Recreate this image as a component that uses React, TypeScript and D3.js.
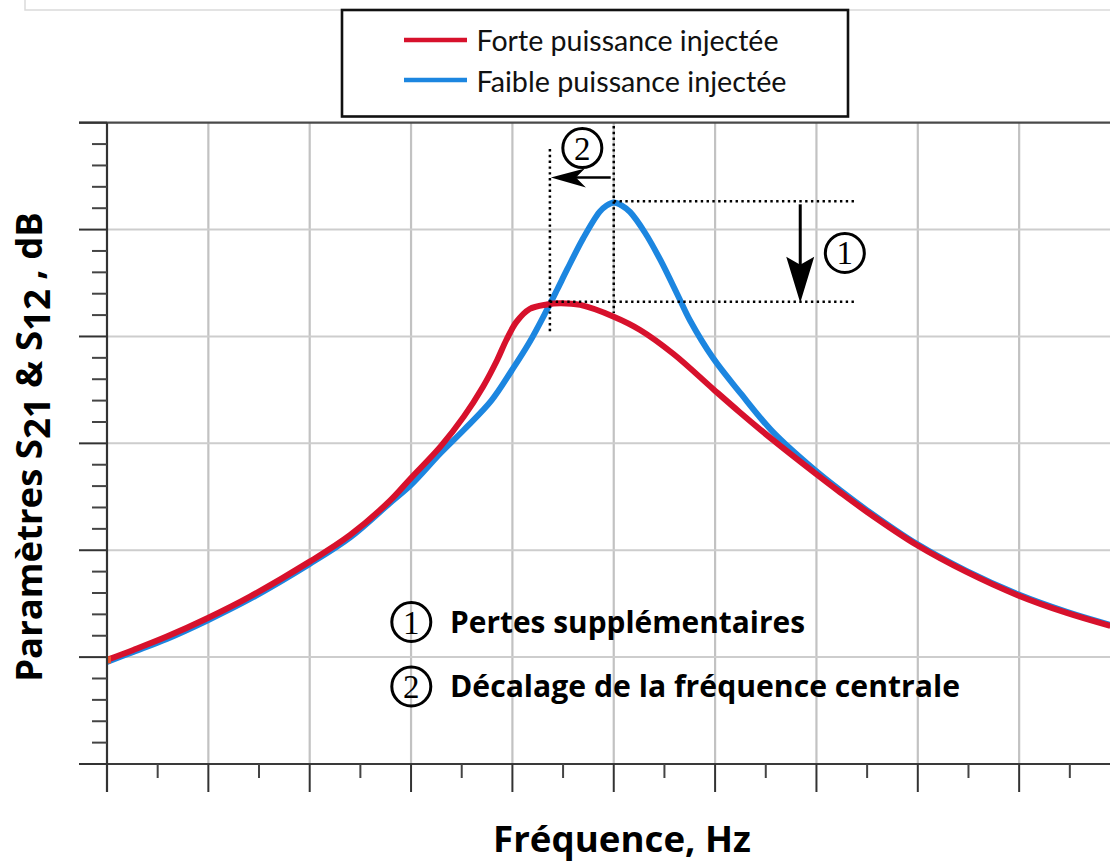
import React from 'react';
import * as d3 from 'd3';

// ---- Data (frequency in grid divisions, S-parameters in dB) ----
const freqRed = [0.0, 0.26, 0.59, 0.99, 1.41, 2.0, 2.4, 2.79, 3.0, 3.29, 3.52, 3.71, 3.85, 3.94, 4.04, 4.17, 4.34, 4.47, 4.67, 5.0, 5.26, 5.59, 5.98, 6.24, 6.57, 6.97, 7.23, 7.5, 7.99, 8.48, 8.99, 9.47, 9.9];
const dbRed = [-50.26, -49.33, -48.08, -46.36, -44.34, -41.07, -38.57, -35.39, -33.24, -30.31, -27.5, -24.7, -22.2, -20.33, -18.64, -17.43, -17.01, -16.89, -17.05, -18.15, -19.39, -21.64, -24.91, -27.06, -29.68, -32.67, -34.55, -36.42, -39.51, -42.03, -44.23, -45.87, -47.08];

const freqBlue = [0.0, 0.26, 0.59, 0.99, 1.41, 2.0, 2.4, 2.79, 3.0, 3.29, 3.52, 3.79, 3.99, 4.17, 4.34, 4.44, 4.54, 4.7, 4.86, 4.93, 5.0, 5.08, 5.16, 5.31, 5.46, 5.64, 5.75, 5.98, 6.25, 6.57, 6.97, 7.23, 7.5, 7.99, 8.48, 8.99, 9.47, 9.9];
const dbBlue = [-50.45, -49.51, -48.3, -46.57, -44.56, -41.28, -38.8, -35.6, -33.89, -30.93, -28.75, -26.03, -23.23, -20.52, -17.52, -15.65, -13.73, -10.79, -8.35, -7.75, -7.47, -7.75, -8.35, -10.32, -12.84, -16.31, -18.46, -22.02, -25.3, -28.93, -32.39, -34.36, -36.27, -39.41, -41.94, -44.13, -45.77, -46.99];

const seriesNames = ['Forte puissance injectée', 'Faible puissance injectée'];
const seriesColors = ['#D7112C', '#1C86E0'];

const xMajorTicks = d3.range(0, 11, 1);
const xMinorTicks = d3.range(0.5, 10, 1);
const yMajorTicks = d3.range(-60, 1, 10);
const yMinorTicks = d3.range(-60, 0, 2).filter((v) => v % 10 !== 0);

// annotation anchors (data units)
const redPeak = { f: 4.37, db: -16.85 };
const bluePeak = { f: 5.0, db: -7.45 };
const annoRightF = 7.4;
const arrow1F = 6.84;
const arrow2Db = -5.13;
const circle1 = { f: 7.28, db: -12.19, label: '1' };
const circle2 = { f: 4.69, db: -2.37, label: '2' };
const notes = ['Pertes supplémentaires', 'Décalage de la fréquence centrale'];

const W = 1110;
const H = 861;

export default function App() {
  const x = d3.scaleLinear().domain([0, 10]).range([107, 1120.5]);
  const y = d3.scaleLinear().domain([-60, 0]).range([764, 122.7]);

  const redData = freqRed.map((f, i) => [f, dbRed[i]] as [number, number]);
  const blueData = freqBlue.map((f, i) => [f, dbBlue[i]] as [number, number]);
  const line = d3
    .line<[number, number]>()
    .x((d) => x(d[0]))
    .y((d) => y(d[1]))
    .curve(d3.curveCatmullRom.alpha(0.5));

  const x0 = x(0);
  const yTop = y(0);
  const yBot = y(-60);
  const dot = { stroke: '#000', strokeWidth: 2.5, strokeDasharray: '2.4 3.4' };

  const a2y = y(arrow2Db);
  const a2tip = x(redPeak.f) + 1;
  const a1x = x(arrow1F);
  const a1tip = y(redPeak.db);

  const boldFont = "'Open Sans', 'DejaVu Sans', sans-serif";
  const serif = "'Liberation Serif', 'DejaVu Serif', serif";

  return (
    <svg
      width={W}
      height={H}
      viewBox={`0 0 ${W} ${H}`}
      style={{ position: 'absolute', left: 0, top: 0, background: '#fff' }}
    >
      <rect x={0} y={0} width={W} height={H} fill="#fff" />
      {/* faint frame at top */}
      <path d="M25,0 V10 H1110" fill="none" stroke="#dadada" strokeWidth={1.5} />

      {/* grid */}
      {xMajorTicks.filter((t) => t > 0).map((t) => (
        <line key={'gx' + t} x1={x(t)} x2={x(t)} y1={yTop} y2={yBot} stroke="#c2c2c2" strokeWidth={2.2} />
      ))}
      {yMajorTicks.filter((t) => t > -60 && t < 0).map((t) => (
        <line key={'gy' + t} x1={x0} x2={W} y1={y(t)} y2={y(t)} stroke="#cdcdcd" strokeWidth={2} />
      ))}

      {/* curves */}
      <path d={line(blueData) || ''} fill="none" stroke={seriesColors[1]} strokeWidth={6} strokeLinejoin="round" />
      <path d={line(redData) || ''} fill="none" stroke={seriesColors[0]} strokeWidth={6} strokeLinejoin="round" />
      <rect x={x(freqRed[0]) - 1} y={y(dbRed[0]) - 3.5} width={5} height={7} fill="#F2522A" />

      {/* axes */}
      <line x1={79} x2={W} y1={yTop} y2={yTop} stroke="#4a4a4a" strokeWidth={2.2} />
      <line x1={79} x2={W} y1={yBot} y2={yBot} stroke="#3a3a3a" strokeWidth={2.2} />
      <line x1={x0} x2={x0} y1={yTop} y2={792} stroke="#333" strokeWidth={2.2} />
      {yMajorTicks.map((t) => (
        <line key={'ym' + t} x1={79} x2={x0} y1={y(t)} y2={y(t)} stroke="#333" strokeWidth={2} />
      ))}
      {yMinorTicks.map((t) => (
        <line key={'yn' + t} x1={92} x2={x0} y1={y(t)} y2={y(t)} stroke="#444" strokeWidth={2} />
      ))}
      {xMajorTicks.map((t) => (
        <line key={'xm' + t} x1={x(t)} x2={x(t)} y1={yBot} y2={792} stroke="#333" strokeWidth={2} />
      ))}
      {xMinorTicks.map((t) => (
        <line key={'xn' + t} x1={x(t)} x2={x(t)} y1={yBot} y2={778} stroke="#444" strokeWidth={2} />
      ))}

      {/* dotted guides */}
      <line x1={x(bluePeak.f)} x2={x(annoRightF)} y1={y(bluePeak.db) - 1} y2={y(bluePeak.db) - 1} {...dot} />
      <line x1={x(redPeak.f)} x2={x(annoRightF)} y1={y(redPeak.db) - 1} y2={y(redPeak.db) - 1} {...dot} />
      <line x1={x(redPeak.f)} x2={x(redPeak.f)} y1={149} y2={332} {...dot} />
      <line x1={x(bluePeak.f)} x2={x(bluePeak.f)} y1={126} y2={313} {...dot} />

      {/* arrow 2 (horizontal, pointing left) */}
      <line x1={x(bluePeak.f) - 3} x2={a2tip + 22} y1={a2y} y2={a2y} stroke="#000" strokeWidth={2.5} />
      <path
        d={`M${a2tip},${a2y} L${a2tip + 34},${a2y - 9} L${a2tip + 25},${a2y} L${a2tip + 35},${a2y + 10} Z`}
        fill="#000"
      />
      {/* arrow 1 (vertical, pointing down) */}
      <line x1={a1x} x2={a1x} y1={y(bluePeak.db) + 2} y2={a1tip - 36} stroke="#000" strokeWidth={3} />
      <path
        d={`M${a1x},${a1tip} L${a1x - 14},${a1tip - 46} L${a1x},${a1tip - 38} L${a1x + 14},${a1tip - 46} Z`}
        fill="#000"
      />

      {/* circled numbers */}
      {[circle1, circle2].map((c) => (
        <g key={'c' + c.label}>
          <circle cx={x(c.f)} cy={y(c.db)} r={19.5} fill="#fff" stroke="#000" strokeWidth={3} />
          <text x={x(c.f)} y={y(c.db) + 11.5} textAnchor="middle" fontFamily={serif} fontSize={33} fill="#000">
            {c.label}
          </text>
        </g>
      ))}

      {/* notes */}
      {notes.map((n, i) => (
        <g key={'n' + i}>
          <circle cx={411.3} cy={622 + i * 64.5} r={19.5} fill="none" stroke="#000" strokeWidth={3} />
          <text
            x={411.3}
            y={622 + i * 64.5 + 11.5}
            textAnchor="middle"
            fontFamily={serif}
            fontSize={33}
            fill="#000"
          >
            {i + 1}
          </text>
          <text
            x={450}
            y={633 + i * 64}
            fontFamily={boldFont}
            fontWeight={700}
            fontSize={30}
            fill="#000"
            textLength={i === 0 ? 355 : 510}
            lengthAdjust="spacingAndGlyphs"
          >
            {n}
          </text>
        </g>
      ))}

      {/* legend */}
      <rect x={342} y={10} width={506} height={106.5} fill="#fff" stroke="#111" strokeWidth={2.6} />
      {seriesNames.map((s, i) => (
        <g key={'l' + i}>
          <line x1={404} x2={467} y1={40 + i * 40} y2={40 + i * 40} stroke={seriesColors[i]} strokeWidth={4.5} />
          <text
            x={476.5}
            y={50.5 + i * 41.2}
            fontFamily="Lato, 'Open Sans', sans-serif"
            fontSize={29}
            fill="#111"
            textLength={i === 0 ? 302 : 310}
            lengthAdjust="spacingAndGlyphs"
          >
            {s}
          </text>
        </g>
      ))}

      {/* axis titles */}
      <text
        x={622}
        y={851.5}
        textAnchor="middle"
        fontFamily={boldFont}
        fontWeight={700}
        fontSize={36}
        fill="#000"
        textLength={258}
        lengthAdjust="spacingAndGlyphs"
      >
        Fréquence, Hz
      </text>
      <text
        transform="rotate(-90)"
        x={-447}
        y={42}
        textAnchor="middle"
        fontFamily={boldFont}
        fontWeight={700}
        fontSize={36.5}
        fill="#000"
      >
        Paramètres S<tspan dy={8}>21</tspan>
        <tspan dy={-8}> &amp; S</tspan>
        <tspan dy={8}>12</tspan>
        <tspan dy={-8}> , dB</tspan>
      </text>
    </svg>
  );
}
